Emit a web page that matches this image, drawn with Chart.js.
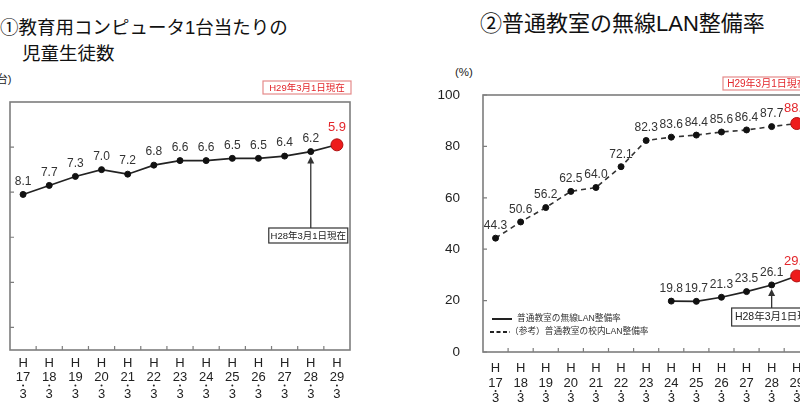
<!DOCTYPE html>
<html><head><meta charset="utf-8">
<script src="https://cdn.jsdelivr.net/npm/chart.js@4"></script>
<style>
html,body{margin:0;padding:0;width:800px;height:419px;overflow:hidden;background:#fff;position:relative}
.t{position:absolute;color:#111;white-space:nowrap;line-height:1;font-family:"Liberation Sans","Noto Sans CJK JP",sans-serif}
#w1{position:absolute;left:0;top:0;width:400px;height:419px}
#w2{position:absolute;left:430px;top:0;width:400px;height:419px}
</style></head><body>
<div class="t" style="left:0px;top:19px;font-size:18.5px">①教育用コンピュータ1台当たりの</div>
<div class="t" style="left:22px;top:45px;font-size:18.5px">児童生徒数</div>
<div class="t" style="left:480px;top:13px;font-size:22px">②普通教室の無線LAN整備率</div>
<div class="t" style="left:-7px;top:74px;font-size:11px;color:#222">(台)</div>
<div class="t" style="left:455px;top:67px;font-size:11.5px;color:#222">(%)</div>
<div id="w1"><canvas id="c1" width="400" height="419"></canvas></div>
<div id="w2"><canvas id="c2" width="400" height="419"></canvas></div>
<script>
// ---- data ----
const years = ['17','18','19','20','21','22','23','24','25','26','27','28','29'];
const studentsPerPC = [8.1, 7.7, 7.3, 7.0, 7.2, 6.8, 6.6, 6.6, 6.5, 6.5, 6.4, 6.2, 5.9];
const leftTickValues = [6, 8, 10, 12, 14];
const lanRate = [44.3, 50.6, 56.2, 62.5, 64.0, 72.1, 82.3, 83.6, 84.4, 85.6, 86.4, 87.7, 88.9];
const wirelessRate = [null, null, null, null, null, null, null, 19.8, 19.7, 21.3, 23.5, 26.1, 29.6];
const rightTickValues = [0, 20, 40, 60, 80, 100];
const noteNow = 'H29年3月1日現在';
const notePrev = 'H28年3月1日現在';
const legendWireless = '普通教室の無線LAN整備率';
const legendLan = '（参考）普通教室の校内LAN整備率';

const xLabels = years.map(y => ['H', y, '3']);
const FONT = '"Liberation Sans","Noto Sans CJK JP",sans-serif';
const RED = '#e3262b';
const AXIS = '#7d7d7d';

function isLast(ctx){ return ctx.dataIndex === ctx.dataset.data.length - 1; }

// frame, inner tick marks and the stacked category labels (H / year / · / month)
function framePlugin(yTicks, rows){
  return {
    id: 'frame',
    beforeDatasetsDraw(chart){
      const c = chart.ctx, a = chart.chartArea, xs = chart.scales.x, ys = chart.scales.y;
      c.save();
      c.strokeStyle = AXIS; c.lineWidth = 1.6;
      c.strokeRect(a.left, a.top, a.right - a.left, a.bottom - a.top);
      c.lineWidth = 1.2;
      c.beginPath();
      yTicks.forEach(v => { const y = ys.getPixelForValue(v); c.moveTo(a.left, y); c.lineTo(a.left + 4, y); });
      const step = xs.getPixelForValue(1) - xs.getPixelForValue(0);
      for (let i = 1; i < years.length; i++) {
        const x = xs.getPixelForValue(i) - step / 2;
        c.moveTo(x, a.bottom); c.lineTo(x, a.bottom - 4);
      }
      c.stroke();
      c.fillStyle = '#222';
      c.font = '13px ' + FONT; c.textAlign = 'center'; c.textBaseline = 'middle';
      chart.data.labels.forEach((lines, i) => {
        const x = xs.getPixelForValue(i);
        c.fillText(lines[0], x, a.bottom + rows[0]);
        c.fillText(lines[1], x, a.bottom + rows[1]);
        c.beginPath(); c.arc(x, a.bottom + rows[2], 1, 0, Math.PI * 2); c.fill();
        c.fillText(lines[2], x, a.bottom + rows[3]);
      });
      c.restore();
    }
  };
}

function labelPlugin(fmt, off, redOff){
  return {
    id: 'vlabels',
    afterDatasetsDraw(chart){
      const c = chart.ctx;
      c.save();
      c.textAlign = 'center'; c.textBaseline = 'middle';
      chart.data.datasets.forEach((ds, di) => {
        const meta = chart.getDatasetMeta(di);
        meta.data.forEach((pt, i) => {
          const v = ds.data[i];
          if (v === null || v === undefined) return;
          const last = i === ds.data.length - 1;
          c.fillStyle = last ? RED : '#333';
          c.font = (last ? '13px ' : '12px ') + FONT;
          c.fillText(fmt(v), pt.x, pt.y - (last ? redOff : off));
        });
      });
      c.restore();
    }
  };
}

function drawBox(c, x, y, w, h, text, color, border, size){
  c.save();
  c.fillStyle = '#fff'; c.fillRect(x, y, w, h);
  c.strokeStyle = border; c.lineWidth = 1.2; c.strokeRect(x, y, w, h);
  c.fillStyle = color; c.font = size + 'px ' + FONT;
  c.textAlign = 'center'; c.textBaseline = 'middle';
  c.fillText(text, x + w / 2, y + h / 2 + 0.5);
  c.restore();
}
function drawArrow(c, x, tipY, baseY){
  c.save();
  c.strokeStyle = '#333'; c.fillStyle = '#333'; c.lineWidth = 1.3;
  c.beginPath(); c.moveTo(x, baseY); c.lineTo(x, tipY + 6); c.stroke();
  c.beginPath(); c.moveTo(x, tipY); c.lineTo(x - 3.5, tipY + 7); c.lineTo(x + 3.5, tipY + 7); c.closePath(); c.fill();
  c.restore();
}

const baseOpts = {
  responsive: false, animation: false, devicePixelRatio: 1,
  plugins: { legend: { display: false }, tooltip: { enabled: false } },
  elements: { line: { tension: 0 } }
};

new Chart(document.getElementById('c1'), {
  type: 'line',
  data: {
    labels: xLabels,
    datasets: [{
      data: studentsPerPC,
      borderColor: '#222', borderWidth: 1.6,
      pointRadius: ctx => isLast(ctx) ? 6 : 3,
      pointBackgroundColor: ctx => isLast(ctx) ? '#ee1c1c' : '#111',
      pointBorderColor: ctx => isLast(ctx) ? '#b01010' : '#111',
      pointBorderWidth: 1
    }]
  },
  options: Object.assign({}, baseOpts, {
    layout: { padding: { left: 10, right: 50, top: 102, bottom: 0 } },
    scales: {
      x: {
        offset: true,
        grid: { display: false }, border: { display: false },
        ticks: { display: false },
        afterFit: s => { s.height = 69; }
      },
      y: {
        min: 4, max: 15, reverse: true,
        grid: { display: false }, border: { display: false },
        ticks: { display: false, stepSize: 2 },
        afterFit: s => { s.width = 0; }
      }
    }
  }),
  plugins: [framePlugin(leftTickValues, [13, 27, 35.5, 44]), labelPlugin(v => v.toFixed(1), 13, 17), {
    id: 'notes',
    afterDraw(chart){
      const c = chart.ctx, a = chart.chartArea;
      drawBox(c, a.right - 87, a.top - 21, 88, 13, noteNow, RED, '#e58a8a', 9.5);
      const pt = chart.getDatasetMeta(0).data[11];
      drawArrow(c, pt.x, pt.y + 5, 228);
      drawBox(c, pt.x - 42, 228, 79, 15, notePrev, '#222', '#333', 9.5);
    }
  }]
});

new Chart(document.getElementById('c2'), {
  type: 'line',
  data: {
    labels: xLabels,
    datasets: [{
      data: lanRate,
      borderColor: '#333', borderWidth: 1.6, borderDash: [5, 4],
      pointRadius: ctx => isLast(ctx) ? 6 : 3,
      pointBackgroundColor: ctx => isLast(ctx) ? '#ee1c1c' : '#111',
      pointBorderColor: ctx => isLast(ctx) ? '#b01010' : '#111',
      pointBorderWidth: 1
    }, {
      data: wirelessRate,
      borderColor: '#222', borderWidth: 1.6, spanGaps: false,
      pointRadius: ctx => isLast(ctx) ? 6 : 3,
      pointBackgroundColor: ctx => isLast(ctx) ? '#ee1c1c' : '#111',
      pointBorderColor: ctx => isLast(ctx) ? '#b01010' : '#111',
      pointBorderWidth: 1
    }]
  },
  options: Object.assign({}, baseOpts, {
    layout: { padding: { left: 0, right: 20.7, top: 95, bottom: 0 } },
    scales: {
      x: {
        offset: true,
        grid: { display: false }, border: { display: false },
        ticks: { display: false },
        afterFit: s => { s.height = 67; }
      },
      y: {
        min: 0, max: 100,
        grid: { display: false }, border: { display: false },
        ticks: { stepSize: 20, padding: 15, color: '#222', font: { size: 13.5, family: FONT } },
        afterFit: s => { s.width = 53; }
      }
    }
  }),
  plugins: [framePlugin(rightTickValues, [16, 31, 39, 46]), labelPlugin(v => v.toFixed(1), 12.5, 15), {
    id: 'notes',
    afterDraw(chart){
      const c = chart.ctx, a = chart.chartArea;
      drawBox(c, a.left + 240, a.top - 18, 88, 13, noteNow, RED, '#e58a8a', 10);
      const pt = chart.getDatasetMeta(1).data[11];
      drawArrow(c, pt.x, pt.y + 4, 308);
      drawBox(c, pt.x - 40, 308, 90, 18, notePrev, '#222', '#333', 10.5);
      c.save();
      c.strokeStyle = '#222'; c.lineWidth = 2;
      c.beginPath(); c.moveTo(a.left + 9, a.bottom - 33); c.lineTo(a.left + 29, a.bottom - 33); c.stroke();
      c.setLineDash([4, 2.5]);
      c.beginPath(); c.moveTo(a.left + 7, a.bottom - 20); c.lineTo(a.left + 27, a.bottom - 20); c.stroke();
      c.setLineDash([]);
      c.fillStyle = '#333'; c.font = '8.7px ' + FONT; c.textBaseline = 'middle'; c.textAlign = 'left';
      c.fillText(legendWireless, a.left + 34, a.bottom - 33);
      c.fillText(legendLan, a.left + 27, a.bottom - 20);
      c.restore();
    }
  }]
});
</script>
</body></html>
